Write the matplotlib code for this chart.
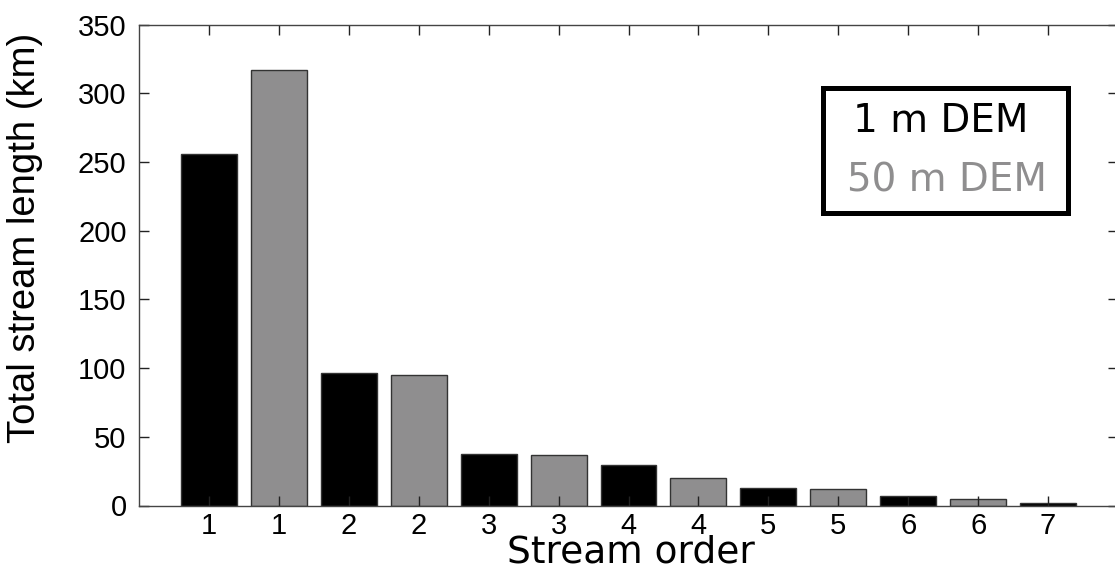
import matplotlib.pyplot as plt
from matplotlib.patches import Rectangle

# stream order labels, bars alternate 1 m / 50 m DEM
tick_labels = ["1", "1", "2", "2", "3", "3", "4", "4", "5", "5", "6", "6", "7"]
len_1m = [256, 96.5, 37.5, 29.5, 12.5, 7, 2]
len_50m = [317, 95, 37, 20, 12, 4.5]

gray = "#8f8e8f"

values = []
colors = []
for i in range(len(tick_labels)):
    if i % 2 == 0:
        values.append(len_1m[i // 2])
        colors.append("black")
    else:
        values.append(len_50m[i // 2])
        colors.append(gray)
positions = list(range(1, len(tick_labels) + 1))

fig = plt.figure(figsize=(11.15, 5.68), dpi=100)
ax = fig.add_axes([139 / 1115, 62.5 / 568, 979 / 1115, 481 / 568])

ax.bar(positions, values, width=0.8, color=colors, edgecolor="#333333", linewidth=1)

ax.set_xlim(0, 14)
ax.set_ylim(0, 350)
ax.set_xticks(positions)
ax.set_xticklabels(tick_labels)
ax.set_yticks(range(0, 351, 50))

ax.tick_params(direction="in", length=7, width=1, top=True, right=True,
               labelsize=21, color="#222222")
ax.tick_params(axis="x", pad=5)
ax.tick_params(axis="y", pad=9)
for lab in ax.get_xticklabels() + ax.get_yticklabels():
    lab.set_family("Liberation Sans")
for sp in ax.spines.values():
    sp.set_color("#444444")
    sp.set_linewidth(1)

ax.set_ylabel("Total stream length (km)", family="Liberation Sans", fontsize=27.5,
              va="center")
ax.yaxis.set_label_coords(-0.1164, 0.556)
ax.set_xlabel("Stream order", family="DejaVu Sans", fontsize=27, va="baseline")
ax.xaxis.set_label_coords(0.5025, -0.1175)

# legend-like box with coloured labels
fig.patches.append(Rectangle((823 / 1115, 1 - 213 / 568), 245 / 1115, 125 / 568,
                             transform=fig.transFigure, fill=False,
                             edgecolor="black", linewidth=3.6))
fig.text(853 / 1115, 1 - 121 / 568, "1 m DEM", family="DejaVu Sans", fontsize=28,
         color="black", va="center", ha="left")
fig.text(847 / 1115, 1 - 180 / 568, "50 m DEM", family="DejaVu Sans", fontsize=28,
         color=gray, va="center", ha="left")

fig.savefig("out.png", dpi=100)
